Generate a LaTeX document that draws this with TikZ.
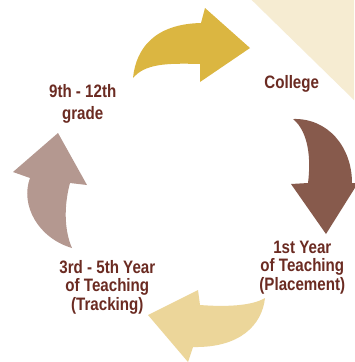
\documentclass[tikz,border=0pt]{standalone}
\usepackage{fontspec}
\newfontfamily\lblfont{Liberation Sans}[FakeStretch=0.84]
\definecolor{txt}{HTML}{6B2B22}
\definecolor{gold}{HTML}{DBB641}
\definecolor{brn}{HTML}{875A4C}
\definecolor{pale}{HTML}{ECD69A}
\definecolor{taupe}{HTML}{B49890}
\definecolor{cream}{HTML}{F6ECD2}
\begin{document}
\begin{tikzpicture}[x=1pt,y=-1pt,
  lbl/.style={font=\lblfont\bfseries\fontsize{18}{18.5}\selectfont, text=txt, align=center, inner sep=0pt, anchor=base}]
\useasboundingbox (0,0) rectangle (354,362);
\fill[white] (0,0) rectangle (354,362);
% background corner
\fill[cream] (251.7,0) -- (354,0) -- (354,100) -- cycle;
% top arrow (gold)
\fill[gold] (133,78) .. controls (136,48) and (155,24) .. (201,23) -- (205,8) -- (250,48) -- (200,82) -- (200,64)
  .. controls (165,63) and (145,64) .. (133,78) -- cycle;
% right arrow (brown)
\fill[brn] (293,119) .. controls (328,118) and (352,147) .. (352,183) -- (358,183) -- (326,234) -- (291,184) -- (308,183)
  .. controls (311,160) and (309,132) .. (293,119) -- cycle;
% bottom arrow (pale)
\fill[pale] (265,298) .. controls (262,325) and (240,348) .. (193,347) -- (188,362) -- (148,315) -- (198,290) -- (200,305)
  .. controls (225,307) and (252,306) .. (265,298) -- cycle;
% left arrow (taupe)
\fill[taupe] (72,248) .. controls (38,238) and (20,205) .. (30,178) -- (13,172) -- (58,133) -- (87,185) -- (70,183)
  .. controls (64,205) and (64,230) .. (72,248) -- cycle;
% labels (base anchor = baseline of the last line)
\node[lbl] (college) at (291.7,88) {College};
\node[lbl,font=\lblfont\bfseries\fontsize{18}{21.7}\selectfont] (grade) at (82.7,119) {9th - 12th\\grade};
\node[lbl] (track) at (107.3,310.3) {3rd - 5th Year\\of Teaching\\(Tracking)};
\node[lbl] (place) at (302.3,290.3) {1st Year\\of Teaching\\(Placement)};
\end{tikzpicture}
\end{document}
